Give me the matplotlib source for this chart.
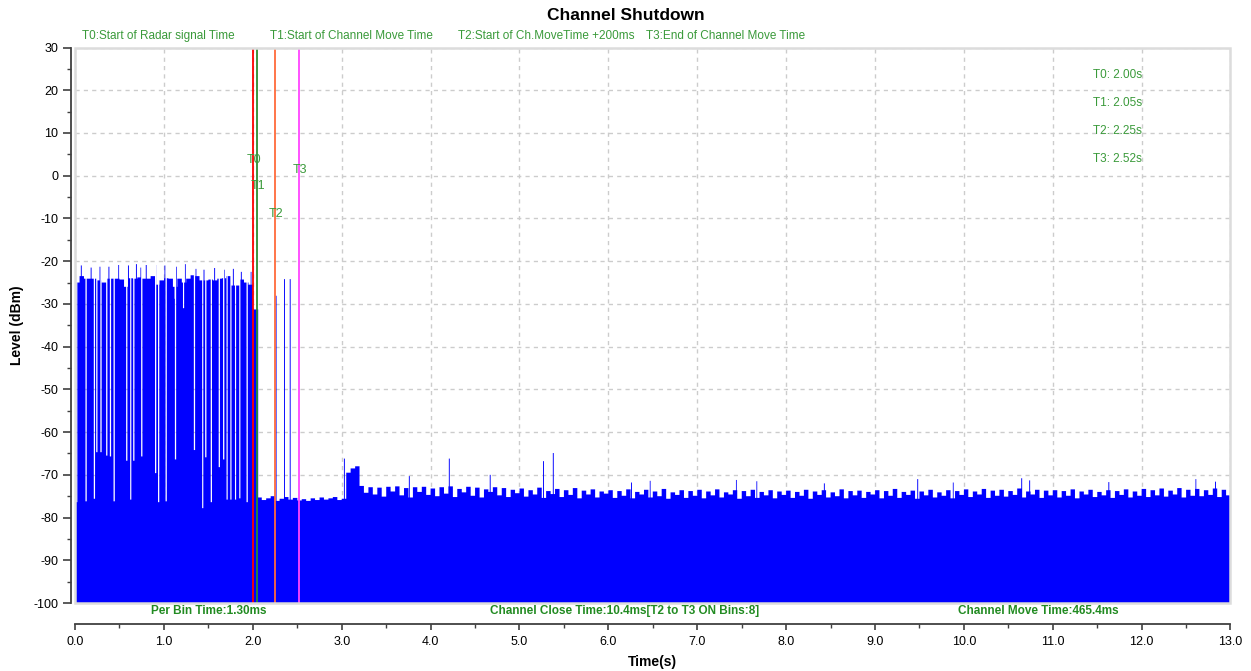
import numpy as np
import matplotlib
matplotlib.use('Agg')
import matplotlib.pyplot as plt
from matplotlib.patches import Rectangle
from matplotlib.ticker import MultipleLocator, FormatStrFormatter

plt.rcParams['font.family'] = ['Liberation Sans', 'DejaVu Sans']
plt.rcParams['axes.unicode_minus'] = False

# ---- data ----
bin_s = 0.0013          # per bin time 1.30 ms
t_end = 13.0

# radar burst top level, one value per 0.05 s from 0.0 to 2.0
radar_step = 0.05
radar_top = [-25.0, -23.5, -24.1, -24.1, -24.1, -24.5, -25.0, -24.1, -24.1, -24.1,
             -24.3, -26.0, -24.0, -24.1, -23.8, -24.1, -24.1, -23.5, -25.5, -24.5,
             -24.0, -24.1, -26.0, -24.1, -25.0, -24.1, -23.3, -23.5, -24.5, -24.5,
             -24.3, -24.5, -24.1, -24.0, -23.5, -25.7, -25.7, -24.3, -25.0, -25.5]
# last radar bins just after T0
tail_span = (2.0, 2.06)
tail_level = -31.3

# thin peaks on top of the radar burst (time s, level dBm)
peak_t = [0.07, 0.18, 0.28, 0.38, 0.49, 0.60, 0.69, 0.74, 0.80, 0.91,
          1.01, 1.14, 1.24, 1.36, 1.45, 1.57, 1.68, 1.78, 1.87, 1.98]
peak_lvl = [-21.0, -21.5, -21.3, -21.3, -20.9, -21.0, -20.7, -21.5, -20.9, -20.9,
            -21.0, -21.3, -20.7, -21.8, -22.0, -21.6, -22.0, -21.8, -22.5, -22.5]

# short dips inside the burst
dip_t = [1.125, 1.22]
dip_lvl = [-28.8, -31.0]

# radar off gaps (time s, bottom level dBm)
gap_t = [0.019, 0.124, 0.217, 0.244, 0.291, 0.356, 0.398, 0.439, 0.581, 0.626,
         0.660, 0.750, 0.906, 0.940, 1.024, 1.130, 1.343, 1.436, 1.470, 1.533,
         1.622, 1.672, 1.710, 1.753, 1.805, 1.853, 1.936]
gap_lvl = [-76.4, -76.2, -75.6, -64.7, -64.7, -65.5, -65.7, -76.2, -66.7, -75.8,
           -66.7, -65.7, -69.6, -76.4, -76.2, -66.4, -64.2, -77.8, -65.9, -76.4,
           -68.2, -66.4, -75.8, -75.8, -75.8, -75.5, -76.4]

# quiet floor after the channel move, per 0.05 s from 2.05 s
floor_start = 2.05
floor_lvl = [-75.3, -75.9, -75.5, -75.0, -76.1, -75.6, -75.2, -75.8, -75.4, -76.0,
             -75.7, -76.1, -75.5, -75.9, -75.3, -75.8, -75.5, -75.2, -75.9, -75.6]

# bump at about 3.05-3.2 s
bump_start = 3.05
bump_lvl = [-69.5, -68.5, -68.0]

# noise floor per 0.05 s from 3.2 s to 13.0 s
noise_start = 3.2
noise_lvl = [
    -72.6, -74.2, -72.9, -74.6, -73.0, -75.1, -72.8, -73.9, -72.7, -74.8, -73.1, -75.3, -72.9, -74.0, -72.8, -74.7,
    -73.2, -75.0, -72.9, -74.4, -72.7, -75.2, -73.3, -74.1, -72.8, -74.9, -73.0, -75.3, -73.4, -74.0, -72.9, -74.8, -73.1, -75.2, -73.5, -74.3,
    -73.2, -75.1, -73.6, -74.6, -73.0, -75.4, -73.8, -74.5, -73.3, -75.2, -73.6, -74.7, -73.1, -75.5, -73.7, -74.6, -73.4, -75.3, -73.9, -74.4,
    -73.6, -75.4, -73.8, -74.9, -73.4, -75.5, -74.0, -74.6, -73.5, -75.3, -73.9, -75.0, -73.3, -75.6, -74.1, -74.7, -73.6, -75.4, -73.8, -74.9,
    -73.5, -75.5, -73.9, -74.8, -73.4, -75.3, -74.1, -74.6, -73.6, -75.6, -73.8, -75.0, -73.5, -75.4, -74.0, -74.8, -73.6, -75.5, -73.9, -74.7,
    -73.7, -75.4, -74.0, -74.9, -73.5, -75.6, -73.9, -74.7, -73.6, -75.3, -74.1, -75.0, -73.4, -75.5, -73.8, -74.8, -73.7, -75.4, -74.0, -74.6,
    -73.6, -75.5, -73.8, -74.9, -73.3, -75.4, -74.0, -74.7, -73.7, -75.6, -73.9, -74.8, -73.5, -75.3, -74.1, -74.9, -73.6, -75.5, -73.8, -74.7,
    -73.4, -75.2, -73.9, -74.6, -73.3, -75.4, -73.7, -74.9, -73.5, -75.1, -73.8, -74.7, -73.2, -75.3, -73.9, -74.6, -73.5, -75.4, -73.7, -74.8,
    -73.6, -75.3, -73.8, -74.9, -73.4, -75.5, -73.9, -74.6, -73.5, -75.2, -74.0, -74.8, -73.6, -75.4, -73.8, -74.7, -73.4, -75.3, -73.9, -74.9,
    -73.3, -75.2, -73.6, -74.8, -73.2, -75.1, -73.7, -74.6, -73.1, -75.3, -73.5, -74.9, -73.3, -75.0, -73.6, -74.7, -73.2, -75.2, -73.5, -74.8]

# isolated spikes (time s, level dBm)
spike_t = [2.262, 2.356, 2.42, 3.03, 3.76, 4.21, 4.67, 5.27, 5.38, 6.26, 6.47, 7.44,
           7.67, 8.43, 9.48, 9.88, 10.65, 10.74, 11.63, 12.61, 12.83]
spike_lvl = [-28.1, -24.2, -24.2, -66.2, -70.3, -66.2, -70.0, -66.8, -64.9, -71.8, -71.4, -71.2,
             -71.5, -72.0, -71.0, -71.8, -70.8, -71.3, -71.7, -71.0, -71.6]

# marker times
mark_names = ['T0', 'T1', 'T2', 'T3']
mark_t = [2.00, 2.05, 2.255, 2.52]
mark_vals = ['2.00s', '2.05s', '2.25s', '2.52s']
mark_desc = ['T0:Start of Radar signal Time', 'T1:Start of Channel Move Time',
             'T2:Start of Ch.MoveTime +200ms', 'T3:End of Channel Move Time']
mark_label_y = [3.7, -2.5, -9.0, 1.4]
mark_colors = ['#ff0000', '#2e8b2e', '#ff6a3a', '#ff44ff']

bottom_notes = ['Per Bin Time:1.30ms', 'Channel Close Time:10.4ms[T2 to T3 ON Bins:8]',
                'Channel Move Time:465.4ms']

# ---- build bin levels ----
n_bins = int(round(t_end / bin_s))
edges = np.arange(n_bins + 1) * bin_s
tc = edges[:-1]
level = np.full(n_bins, -100.0)


def put(a, b, v):
    level[(tc >= a) & (tc < b)] = v


for i, v in enumerate(radar_top):
    put(i * radar_step, (i + 1) * radar_step, v)
put(tail_span[0], tail_span[1], tail_level)
for i, v in enumerate(floor_lvl):
    put(max(floor_start + i * 0.05, tail_span[1]), floor_start + (i + 1) * 0.05, v)
for i, v in enumerate(bump_lvl):
    put(bump_start + i * 0.05, bump_start + (i + 1) * 0.05, v)
for i, v in enumerate(noise_lvl):
    put(noise_start + i * 0.05, noise_start + (i + 1) * 0.05, v)
for tt, v in zip(peak_t, peak_lvl):
    put(tt - 0.005, tt + 0.005, v)
for tt, v in zip(dip_t, dip_lvl):
    put(tt - 0.006, tt + 0.006, v)
for tt, v in zip(gap_t, gap_lvl):
    put(tt - 0.007, tt + 0.007, v)
for tt, v in zip(spike_t, spike_lvl):
    put(tt - 0.005, tt + 0.005, v)

# ---- plot ----
fig = plt.figure(figsize=(12.51, 6.71), dpi=100)
ax = fig.add_axes([0.0600, 0.1013, 0.9236, 0.8279])

ax.stairs(level, edges, baseline=-100, fill=True, color='#0000ff', lw=0, zorder=2)

for tt, c in zip(mark_t, mark_colors):
    ax.axvline(tt, color=c, lw=1.3, zorder=3)

ax.set_xlim(0, 13)
ax.set_ylim(-100, 30)
ax.xaxis.set_major_locator(MultipleLocator(1))
ax.xaxis.set_minor_locator(MultipleLocator(0.5))
ax.yaxis.set_major_locator(MultipleLocator(10))
ax.yaxis.set_minor_locator(MultipleLocator(5))
ax.xaxis.set_major_formatter(FormatStrFormatter('%.1f'))
ax.grid(True, which='major', color='#cccccc', linestyle=(0, (3, 3)), lw=1)
ax.set_axisbelow(True)

# offsets in points (px * 0.72)
for s in ['top', 'right']:
    ax.spines[s].set_visible(False)
ax.spines['left'].set_position(('outward', 3))
ax.spines['bottom'].set_position(('outward', 15))
for s in ['left', 'bottom']:
    ax.spines[s].set_color('#404040')
    ax.spines[s].set_linewidth(1.3)
ax.add_patch(Rectangle((0, 0), 1, 1, transform=ax.transAxes, fill=False,
                       edgecolor='#dcdcdc', lw=1.8, clip_on=False, zorder=4))

ax.tick_params(which='major', length=5.5, width=1.2, color='#404040', labelsize=9)
ax.tick_params(which='minor', length=3, width=1.0, color='#404040')
ax.tick_params(axis='x', which='major', length=4.5, pad=4)

ax.set_xlabel('Time(s)', fontsize=10, fontweight='bold', labelpad=5)
ax.set_ylabel('Level (dBm)', fontsize=10, fontweight='bold', labelpad=7)

fig.text(0.5, 0.977, 'Channel Shutdown', ha='center', va='center',
         fontsize=12.5, fontweight='bold')

green = '#3a9a3a'
for i, d in enumerate(mark_desc):
    fig.text((82 + 188 * i) / 1251, 1 - 36 / 671, d, ha='left', va='center',
             fontsize=8.5, color=green)

for n, tt, y in zip(mark_names, mark_t, mark_label_y):
    ax.text(tt + 0.01, y, n, ha='center', va='center', fontsize=9, color=green, zorder=5)

for i, (n, v) in enumerate(zip(mark_names, mark_vals)):
    ax.text(11.45, 23.45 - 6.55 * i, n + ': ' + v, ha='left', va='center',
            fontsize=8.5, color=green)

for xc, note in zip([209, 624, 1038], bottom_notes):
    ax.text((xc - 75) / 1155, -0.0144, note, transform=ax.transAxes, ha='center',
            va='center', fontsize=8.5, fontweight='bold', color='#228b22')

fig.savefig('out.png', dpi=100)
